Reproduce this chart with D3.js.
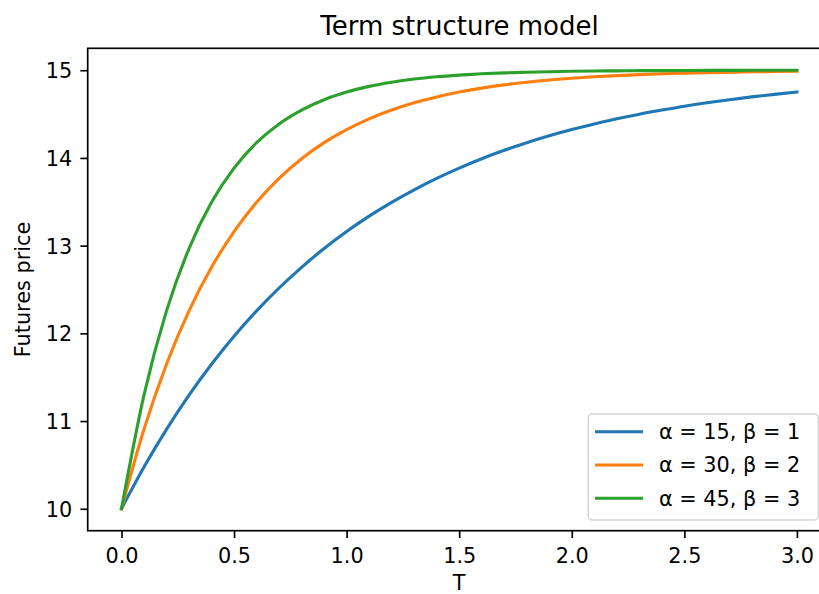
<!DOCTYPE html>
<html>
  <head>
    <meta charset="utf-8" />
    <title>Term structure model</title>
    <script src="https://d3js.org/d3.v7.min.js"></script>
    <style>
      body { margin: 0; background: #fff; }
      text { font-family: "DejaVu Sans", sans-serif; fill: #000; }
    </style>
  </head>
  <body>
    <svg width="819" height="594"></svg>
    <script>
      // values
      var T = [0, 0.1, 0.2, 0.3, 0.4, 0.5, 0.6, 0.7, 0.8, 0.9, 1.0,
               1.1, 1.2, 1.3, 1.4, 1.5, 1.6, 1.7, 1.8, 1.9, 2.0,
               2.1, 2.2, 2.3, 2.4, 2.5, 2.6, 2.7, 2.8, 2.9, 3.0];
      var blue = [10, 10.476, 10.906, 11.296, 11.648, 11.967, 12.256, 12.517, 12.753, 12.967, 13.161,
                  13.336, 13.494, 13.637, 13.767, 13.884, 13.991, 14.087, 14.174, 14.252, 14.323,
                  14.388, 14.446, 14.499, 14.546, 14.590, 14.629, 14.664, 14.696, 14.725, 14.751];
      var orange = [10, 10.906, 11.648, 12.256, 12.753, 13.161, 13.494, 13.767, 13.991, 14.174, 14.323,
                    14.446, 14.546, 14.629, 14.696, 14.751, 14.796, 14.833, 14.863, 14.888, 14.908,
                    14.925, 14.939, 14.950, 14.959, 14.966, 14.972, 14.977, 14.982, 14.985, 14.988];
      var green = [10, 11.296, 12.256, 12.967, 13.494, 13.884, 14.174, 14.388, 14.546, 14.664, 14.751,
                   14.816, 14.863, 14.899, 14.925, 14.944, 14.959, 14.970, 14.977, 14.983, 14.988,
                   14.991, 14.993, 14.995, 14.996, 14.997, 14.998, 14.998, 14.999, 14.999, 14.999];
      var labels = ["α = 15, β = 1", "α = 30, β = 2", "α = 45, β = 3"];
      var colors = ["#1f77b4", "#ff7f0e", "#2ca02c"];
      var xTicks = [0, 0.5, 1.0, 1.5, 2.0, 2.5, 3.0];
      var yTicks = [10, 11, 12, 13, 14, 15];

      var svg = d3.select("svg");
      var plotL = 87.7, plotT = 48.3, plotW = 743, plotH = 482.4;

      var x = d3.scaleLinear().domain([-0.15, 3.15]).range([plotL, plotL + plotW]);
      var y = d3.scaleLinear().domain([9.75, 15.25]).range([plotT + plotH, plotT]);

      // lines
      var line = d3.line()
        .x(function (d, i) { return x(T[i]); })
        .y(function (d) { return y(d); })
        .curve(d3.curveMonotoneX);

      [blue, orange, green].forEach(function (s, k) {
        svg.append("path")
          .attr("d", line(s))
          .attr("fill", "none")
          .attr("stroke", colors[k])
          .attr("stroke-width", 3.1)
          .attr("stroke-linecap", "square");
      });

      // frame
      svg.append("rect")
        .attr("x", plotL).attr("y", plotT)
        .attr("width", plotW).attr("height", plotH)
        .attr("fill", "none").attr("stroke", "#000").attr("stroke-width", 1.67);

      // x axis
      var xAxis = d3.axisBottom(x).tickValues(xTicks).tickFormat(d3.format(".1f"))
        .tickSize(7.3).tickPadding(7.3);
      var gx = svg.append("g").attr("transform", "translate(0," + (plotT + plotH) + ")").call(xAxis);
      gx.select(".domain").remove();
      gx.selectAll("line").attr("stroke", "#000").attr("stroke-width", 1.67);
      gx.selectAll("text").attr("font-size", 20.8).attr("font-family", "DejaVu Sans")
        .attr("dy", null).attr("y", 32.8);

      // y axis
      var yAxis = d3.axisLeft(y).tickValues(yTicks).tickFormat(d3.format("d"))
        .tickSize(7.3).tickPadding(7.3);
      var gy = svg.append("g").attr("transform", "translate(" + plotL + ",0)").call(yAxis);
      gy.select(".domain").remove();
      gy.selectAll("line").attr("stroke", "#000").attr("stroke-width", 1.67);
      gy.selectAll("text").attr("font-size", 20.8).attr("font-family", "DejaVu Sans")
        .attr("x", -15.5).attr("dy", "0.36em");

      // titles
      svg.append("text").attr("x", 459.5).attr("y", 35)
        .attr("text-anchor", "middle").attr("font-size", 26).text("Term structure model");
      svg.append("text").attr("x", x(1.5)).attr("y", 589.5)
        .attr("text-anchor", "middle").attr("font-size", 20.8).text("T");
      svg.append("text")
        .attr("transform", "translate(29.5," + (plotT + plotH / 2) + ") rotate(-90)")
        .attr("text-anchor", "middle").attr("font-size", 20.8).text("Futures price");

      // legend
      var lg = svg.append("g");
      lg.append("rect")
        .attr("x", 588.3).attr("y", 414).attr("width", 230).attr("height", 106)
        .attr("rx", 4).attr("fill", "#fff").attr("fill-opacity", 0.8)
        .attr("stroke", "#d5d5d5").attr("stroke-width", 1.5);
      labels.forEach(function (lab, k) {
        var cy = 431.7 + k * 33.3;
        lg.append("line")
          .attr("x1", 595).attr("x2", 643).attr("y1", cy).attr("y2", cy)
          .attr("stroke", colors[k]).attr("stroke-width", 3.1);
        lg.append("text").attr("x", 659).attr("y", cy).attr("dy", "0.36em")
          .attr("font-size", 20.8).text(lab);
      });
    </script>
  </body>
</html>
